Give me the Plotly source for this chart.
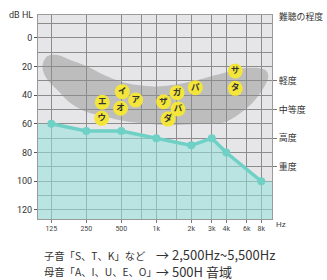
import math
import plotly.graph_objects as go

# ---------------- data ----------------
freq_ticks = [125, 250, 500, 1000, 2000, 3000, 4000, 6000, 8000]
freq_labels = ["125", "250", "500", "1k", "2k", "3k", "4k", "6k", "8k"]
freq_minor = [750, 1500]

db_ticks = [0, 20, 40, 60, 80, 100, 120]
db_minor = [-10, 10, 30, 50, 70, 90, 110]

grade_vals = [30, 50, 70, 90]
grade_labels = ["軽度", "中等度", "高度", "重度"]

# audiogram (hearing threshold)
aud_freq = [125, 250, 500, 1000, 2000, 3000, 4000, 8000]
aud_db = [60, 65, 65, 70, 75, 70, 80, 100]

# speech banana outline
banana_freq = [105, 115, 141, 182, 255, 355, 490, 686, 1020, 1880, 3670, 6190, 8660,
               9190, 8160, 6700, 4780, 3670, 2390, 1240, 728, 490, 330, 255, 182, 141, 112, 105]
banana_db = [20, 13, 12, 15.5, 20, 26, 30.5, 33, 34, 31, 25, 21, 22.5,
             27, 36.5, 45.5, 55, 59.5, 60, 61, 59.5, 57.5, 54, 52, 45.5, 36.5, 27.5, 20]

# phonemes
ph_text = ["イ", "ア", "エ", "オ", "ウ", "サ", "タ", "パ", "ガ", "ザ", "バ", "ダ"]
ph_freq = [510, 664, 343, 493, 339, 4780, 4780, 2165, 1507, 1156, 1537, 1261]
ph_db = [37.6, 43.4, 45, 49.2, 56.2, 23.2, 35.3, 34.8, 38.3, 44.6, 49.7, 56.7]

x_range = [96, 9890]
y_range = [126.3, -15.8]

line1_left = "子音「S、T、K」など"
line1_right = "→ 2,500Hz~5,500Hz"
line2_left = "母音「A、I、U、E、O」"
line2_right = "→ 500H 音域"

# ---------------- figure ----------------
NUM_FONT = "Liberation Sans Narrow, Roboto, Arial, sans-serif"
JP_FONT = "Noto Sans CJK JP, sans-serif"
GRID = "#8c8c8c"

fig = go.Figure()

# teal area below the threshold line
fill_x = [x_range[0]] + aud_freq + [x_range[1], x_range[1], x_range[0]]
fill_y = [aud_db[0]] + aud_db + [aud_db[-1], y_range[0], y_range[0]]
fig.add_trace(go.Scatter(x=fill_x, y=fill_y, mode="lines", fill="toself",
                         fillcolor="rgba(150,226,218,0.55)", line=dict(width=0),
                         hoverinfo="skip", showlegend=False))

# speech banana
fig.add_trace(go.Scatter(x=banana_freq, y=banana_db, mode="lines", fill="toself",
                         line=dict(width=0, shape="spline", smoothing=1.0),
                         fillcolor="rgba(140,140,140,0.45)",
                         hoverinfo="skip", showlegend=False))

# threshold line
fig.add_trace(go.Scatter(x=aud_freq, y=aud_db, mode="lines+markers",
                         line=dict(color="#6fd0c6", width=3.5),
                         marker=dict(color="#6fd0c6", size=8),
                         showlegend=False))

# phoneme circles
fig.add_trace(go.Scatter(x=ph_freq, y=ph_db, mode="markers+text", text=ph_text,
                         textposition="middle center",
                         textfont=dict(family=JP_FONT, size=8.5, color="#333333", weight="bold"),
                         marker=dict(color="#f4e53a", size=15, line=dict(width=0)),
                         showlegend=False))

# invisible trace for the right axis
fig.add_trace(go.Scatter(x=[aud_freq[0]], y=[aud_db[0]], yaxis="y2", mode="markers",
                         marker=dict(opacity=0), hoverinfo="skip", showlegend=False))

fig.update_layout(
    width=327, height=280,
    margin=dict(l=38, r=55, t=15, b=61, autoexpand=False),
    paper_bgcolor="white",
    plot_bgcolor="#e6e6e8",
    xaxis=dict(type="log", range=[math.log10(x_range[0]), math.log10(x_range[1])],
               automargin=False,
               tickmode="array", tickvals=freq_ticks, ticktext=freq_labels,
               ticks="outside", ticklen=3, tickcolor="#777777",
               tickfont=dict(family=NUM_FONT, size=7, color="#444444"),
               showgrid=True, gridcolor=GRID, gridwidth=1.2,
               minor=dict(tickmode="array", tickvals=freq_minor, showgrid=True,
                          gridcolor=GRID, gridwidth=1.2, ticks=""),
               showline=True, linecolor="#9a9a9a", linewidth=1, mirror=True,
               zeroline=False),
    yaxis=dict(range=y_range, tickmode="array", tickvals=db_ticks, automargin=False,
               ticks="outside", ticklen=3, tickcolor="#555555",
               tickfont=dict(family=NUM_FONT, size=9, color="#333333"),
               showgrid=True, gridcolor=GRID, gridwidth=1.2,
               minor=dict(tickmode="array", tickvals=db_minor, showgrid=True,
                          gridcolor=GRID, gridwidth=1.2, ticks=""),
               showline=True, linecolor="#9a9a9a", linewidth=1, mirror=True,
               zeroline=False),
    yaxis2=dict(range=y_range, overlaying="y", side="right", anchor="x", automargin=False,
                tickmode="array", tickvals=grade_vals, ticktext=grade_labels,
                ticks="outside", ticklen=4, tickcolor="#777777",
                tickfont=dict(family=JP_FONT, size=9, color="#333333"),
                showgrid=False, zeroline=False, showline=False),
    annotations=[
        dict(text="dB HL", xref="paper", yref="paper", x=0, y=1, xanchor="right",
             yanchor="middle", xshift=-3, showarrow=False,
             font=dict(family=NUM_FONT, size=9, color="#333333")),
        dict(text="難聴の程度", xref="paper", yref="paper", x=1, y=1, xanchor="left",
             yanchor="middle", xshift=5, yshift=-1, showarrow=False,
             font=dict(family=JP_FONT, size=8.8, color="#333333")),
        dict(text="Hz", xref="paper", yref="paper", x=1, y=0, xanchor="left",
             yanchor="middle", xshift=2, yshift=-5, showarrow=False,
             font=dict(family=NUM_FONT, size=8, color="#444444")),
        dict(text=line1_left, xref="paper", yref="paper", x=0, y=0, xanchor="left",
             yanchor="middle", xshift=4, yshift=-36, showarrow=False,
             font=dict(family=JP_FONT, size=10.3, color="#333333")),
        dict(text=line2_left, xref="paper", yref="paper", x=0, y=0, xanchor="left",
             yanchor="middle", xshift=4, yshift=-52, showarrow=False,
             font=dict(family=JP_FONT, size=10.3, color="#333333")),
        dict(text=line1_right + "<br>" + line2_right, xref="paper", yref="paper",
             x=0, y=0, xanchor="left", yanchor="middle", align="left",
             xshift=116, yshift=-44, showarrow=False,
             font=dict(family=JP_FONT, size=13, color="#333333")),
    ],
)

fig.write_html("out.html", config={"displayModeBar": False},
               post_script="document.body.style.margin='0';document.body.style.overflow='hidden';")
